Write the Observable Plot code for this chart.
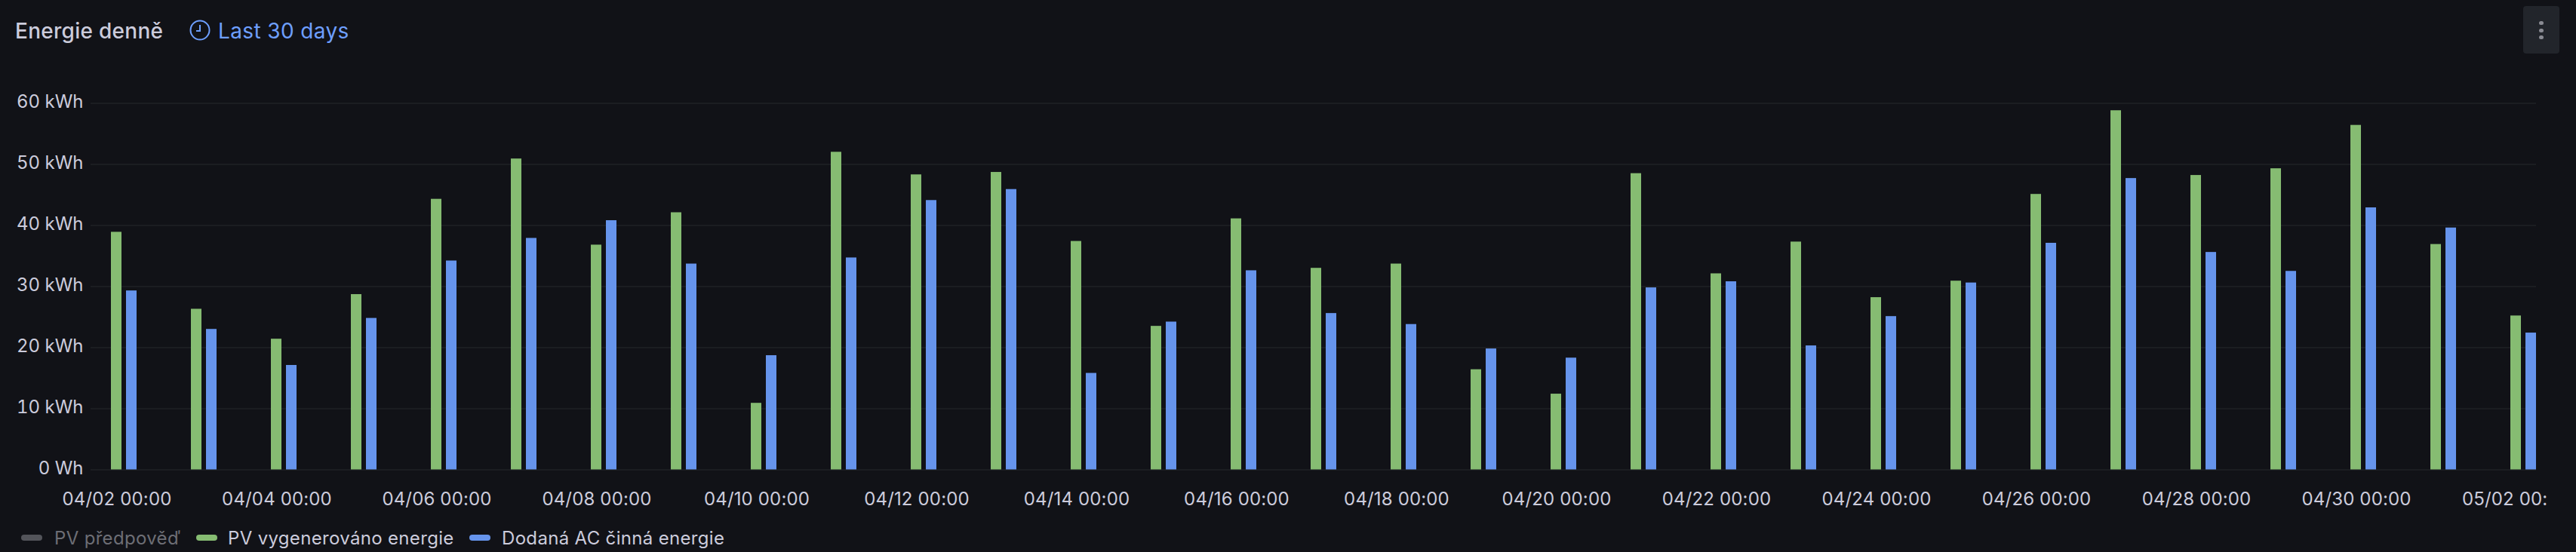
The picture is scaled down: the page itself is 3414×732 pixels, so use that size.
<!DOCTYPE html>
<html>
<head>
<meta charset="utf-8">
<script src="https://cdn.jsdelivr.net/npm/d3@7"></script>
<script src="https://cdn.jsdelivr.net/npm/@observablehq/plot@0.6"></script>
<style>
  html, body { margin: 0; padding: 0; background: #111217; width: 3414px; height: 732px; overflow: hidden; }
  body { position: relative; font-family: Inter, "Noto Sans", sans-serif; color: #ccccdc; }
  #header { position: absolute; left: 0; top: 0; width: 3414px; height: 100px; }
  #title { position: absolute; left: 20px; top: 24px; font-size: 28px; line-height: 34px; font-weight: 500; letter-spacing: 0.28px; color: #ccccdc; white-space: nowrap; }
  #range { position: absolute; left: 289px; top: 24px; font-size: 28px; line-height: 34px; letter-spacing: 0.38px; color: #6e9fff; white-space: nowrap; }
  #clock { position: absolute; left: 251px; top: 26px; }
  #menu { position: absolute; left: 3344px; top: 8px; width: 48px; height: 63px; border-radius: 4px; background: #22252b; }
  #menu i { position: absolute; left: 21px; width: 6px; height: 5px; border-radius: 3px; background: #8a8b93; }
  #chart { position: absolute; left: 0; top: 100px; width: 3376px; height: 590px; overflow: hidden; }
  #chart svg { background: transparent; overflow: hidden; display: block; max-width: none; }
  #chart svg g[aria-label="x-axis tick label"] text { letter-spacing: 0.15px; }
  #legend { position: absolute; left: 0; top: 690px; width: 3414px; height: 42px; font-size: 24px; }
  #legend span.sw { position: absolute; top: 19px; width: 28px; height: 8px; border-radius: 4px; }
  #legend span.tx { position: absolute; top: 9px; line-height: 30px; letter-spacing: 0.33px; white-space: nowrap; color: #ccccdc; }
</style>
</head>
<body>
<div id="header">
  <div id="title">Energie denně</div>
  <svg id="clock" width="28" height="28" viewBox="0 0 28 28" fill="none" stroke="#6e9fff" stroke-width="2">
    <circle cx="14" cy="14" r="12.5"></circle>
    <path d="M14 7 V15 H9"></path>
  </svg>
  <div id="range">Last 30 days</div>
  <div id="menu"><i style="top:20px"></i><i style="top:30px"></i><i style="top:39px"></i></div>
</div>
<div id="chart"></div>
<div id="legend"></div>
<script>
const days = ["04/02","04/03","04/04","04/05","04/06","04/07","04/08","04/09","04/10","04/11","04/12","04/13","04/14","04/15","04/16","04/17","04/18","04/19","04/20","04/21","04/22","04/23","04/24","04/25","04/26","04/27","04/28","04/29","04/30","05/01","05/02"];
const generated = [38.9,26.3,21.4,28.7,44.3,50.9,36.8,42.1,10.9,52.0,48.3,48.7,37.4,23.5,41.1,33.0,33.7,16.4,12.4,48.5,32.1,37.3,28.2,30.9,45.1,58.8,48.2,49.3,56.4,36.9,25.2];
const delivered = [29.3,23.0,17.1,24.8,34.2,37.9,40.8,33.7,18.7,34.7,44.1,45.9,15.8,24.2,32.6,25.6,23.8,19.8,18.3,29.8,30.8,20.3,25.1,30.6,37.1,47.7,35.6,32.5,42.9,39.6,22.4];
const tickDays = ["04/02","04/04","04/06","04/08","04/10","04/12","04/14","04/16","04/18","04/20","04/22","04/24","04/26","04/28","04/30","05/02"];
const yTicks = [0,10,20,30,40,50,60];
const seriesNames = ["PV předpověď","PV vygenerováno energie","Dodaná AC činná energie"];
const seriesColors = ["#53545a","#86bc72","#6694ec"];
const legendSwatchX = [28,260,622];
const legendTextX = [72,302,665];

const genRows = days.map((d,i)=>({day:d, v:generated[i]}));
const delRows = days.map((d,i)=>({day:d, v:delivered[i]}));

const plot = Plot.plot({
  width: 3376, height: 590,
  marginTop: 36.5, marginBottom: 67.5, marginLeft: 120, marginRight: 15,
  style: {background:"transparent", fontFamily:"Inter, sans-serif", fontSize:"24px", color:"#ccccdc"},
  x: {type:"band", domain: days, range:[157,3351], paddingInner:0.868, paddingOuter:0, align:0},
  y: {domain:[0,60], range:[522.5,36.5]},
  marks: [
    Plot.ruleY(yTicks, {stroke:"#27282d", strokeWidth:1}),
    Plot.barY(genRows, {x:"day", y:"v", fill:seriesColors[1], dx:-10}),
    Plot.barY(delRows, {x:"day", y:"v", fill:seriesColors[2], dx:10}),
    Plot.axisX({ticks: tickDays, tickSize:0, tickPadding:30, dx:-9.5, tickFormat:d=>d+" 00:00", fontSize:24, fill:"#ccccdc", label:null}),
    Plot.axisY({ticks: yTicks, tickSize:0, tickPadding:10, dy:-2, tickFormat:v=>v===0?"0 Wh":v+" kWh", fontSize:24, fill:"#ccccdc", label:null})
  ]
});
document.getElementById("chart").appendChild(plot);

const legend = document.getElementById("legend");
seriesNames.forEach((name,i)=>{
  const sw = document.createElement("span");
  sw.className="sw"; sw.style.left=legendSwatchX[i]+"px"; sw.style.background=seriesColors[i];
  const tx = document.createElement("span");
  tx.className="tx"; tx.style.left=legendTextX[i]+"px"; tx.textContent=name;
  if(i===0) tx.style.color="#6d6e75";
  legend.append(sw,tx);
});
</script>
</body>
</html>
